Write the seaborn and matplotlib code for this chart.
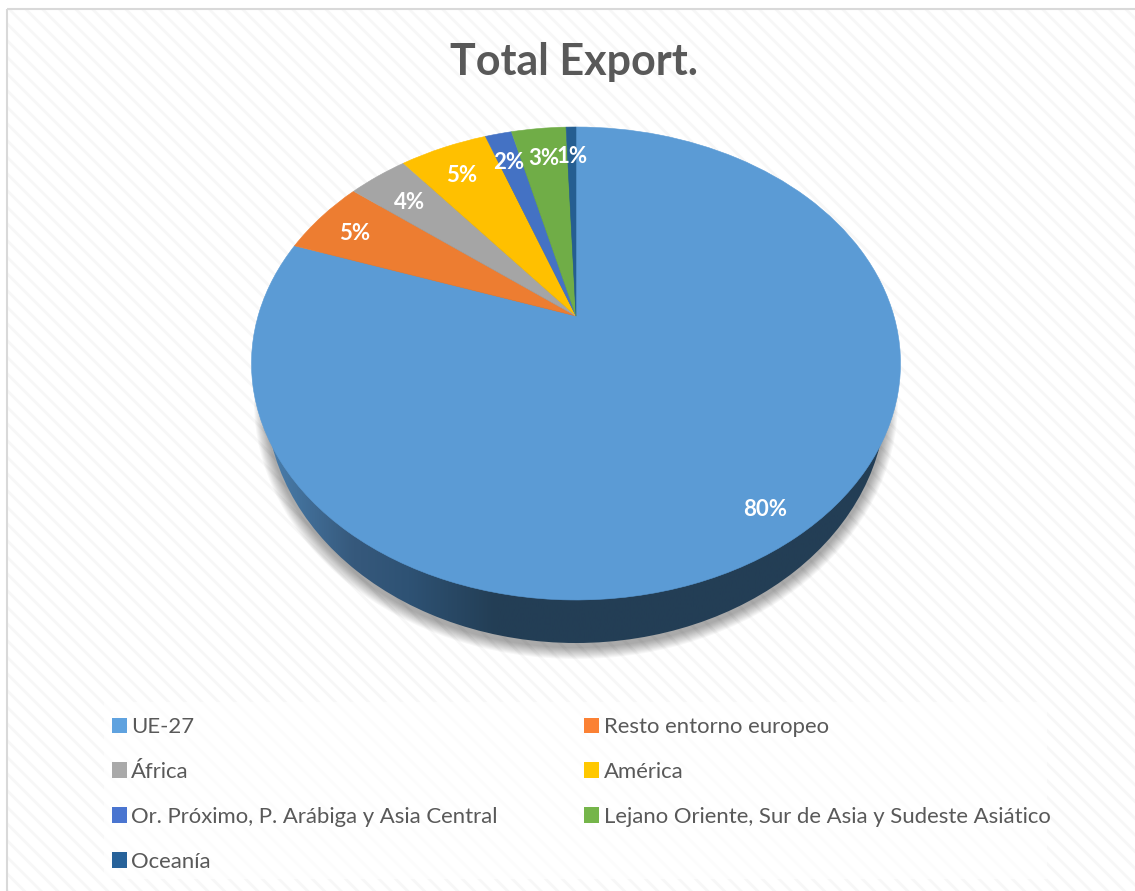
import matplotlib
matplotlib.use("Agg")
import matplotlib.pyplot as plt
import matplotlib.transforms as mtransforms
from matplotlib.colors import LinearSegmentedColormap
from matplotlib.patches import Ellipse, Rectangle
import numpy as np
import seaborn as sb

regions = ["UE-27", "Resto entorno europeo", "África", "América",
           "Or. Próximo, P. Arábiga y Asia Central",
           "Lejano Oriente, Sur de Asia y Sudeste Asiático", "Oceanía"]
shares = [80.35, 5.25, 3.6, 5.3, 1.6, 3.3, 0.6]
slice_colors = ["#5b9bd5", "#ed7d31", "#a5a5a5", "#ffc000", "#4472c4", "#70ad47", "#255e91"]
legend_colors = ["#5fa2df", "#fb8134", "#a9a9a9", "#ffc800", "#4a75d0", "#75b54a", "#27629a"]
side_colors = ["#4a7fae", "#36597c", "#2e5274", "#233e55", "#233e55"]
title_text = "Total Export."

W, H = 1135, 891
TEXT_GREY = "#595959"

sb.set_theme(style="white", font="Lato")
plt.rcParams["hatch.linewidth"] = 2.0


class TiltedPie(mtransforms.Transform):
    # tilts the unit circle of ax.pie into the picture's perspective (pixel coords)
    input_dims = output_dims = 2
    has_inverse = False

    def transform_non_affine(self, xy):
        xy = np.asarray(xy, dtype=float)
        w = 0.2008 * xy[:, 1] + 1
        return np.column_stack([576 + 317.9 * xy[:, 0] / w,
                                (316 - 163.5 * xy[:, 1]) / w])


fig = plt.figure(figsize=(W / 100, H / 100), dpi=100, facecolor="white")
ax = fig.add_axes([0, 0, 1, 1])

# background: white with faint diagonal stripes and a grey border on left/top
ax.add_patch(Rectangle((8, 10), W, H, facecolor="white", edgecolor="#f7f7f7",
                       hatch="\\\\", linewidth=0, zorder=0))
ax.add_patch(Rectangle((7, 9), W, H, facecolor="none", edgecolor="#d9d9d9",
                       linewidth=1.5, zorder=0.5))

# soft shadow under the body
for i in range(12):
    ax.add_patch(Ellipse((576, 401), 2 * (310 + 12 - i), 2 * (246 + 12 - i),
                         facecolor="black", edgecolor="none", alpha=0.03, zorder=1))

# side of the pie with the left-to-right gradient
side_cmap = LinearSegmentedColormap.from_list(
    "side", list(zip([0, 0.14, 0.23, 0.37, 1], side_colors)))
gradient = ax.imshow(np.linspace(0, 1, 256).reshape(1, -1), cmap=side_cmap,
                     extent=(266, 886, 651, 151), aspect="auto", zorder=2)
body = Ellipse((576, 397), 620, 492, facecolor="none", edgecolor="none",
               transform=ax.transData)
ax.add_patch(body)
gradient.set_clip_path(body)

wedges, _, pct_texts = ax.pie(shares, colors=sb.color_palette(slice_colors), startangle=90,
                              counterclock=False, labeldistance=None, autopct="%.0f%%",
                              pctdistance=0.84,
                              wedgeprops={"linewidth": 0.4, "zorder": 3},
                              textprops={"color": "white", "fontweight": "bold", "fontsize": 16})

tilt = TiltedPie() + ax.transData
text_tilt = TiltedPie() + mtransforms.Affine2D().translate(0, 4) + ax.transData
for w in wedges:
    w.set_edgecolor(w.get_facecolor())
    w.set_transform(tilt)
for t in pct_texts:
    t.set_transform(text_tilt)
    t.set_zorder(4)
# a few labels sit a little off the common radius
for t, k in zip(pct_texts, [1.045, 1.025, 0.98, 1, 1, 1, 1]):
    x0, y0 = t.get_position()
    t.set_position((x0 * k, y0 * k))

ax.set_aspect("auto")
ax.set_xlim(0, W)
ax.set_ylim(H, 0)
ax.axis("off")

ax.text(574.5, 75, title_text, ha="center", va="baseline", color=TEXT_GREY,
        fontsize=31, fontweight="bold")

# pale box behind the legend
ax.add_patch(Rectangle((104, 702), 943, 177, facecolor="white", edgecolor="none",
                       alpha=0.75, zorder=1))

# legend fills by column, the picture reads by row
order = [0, 2, 4, 6, 1, 3, 5]
leg = ax.legend([wedges[i] for i in order], [regions[i] for i in order], ncol=2,
                loc="upper left", bbox_to_anchor=(103, 708), bbox_transform=ax.transData,
                fontsize=15.9, labelcolor=TEXT_GREY, frameon=False, borderaxespad=0,
                borderpad=0.4, handlelength=0.68, handleheight=0.68, handletextpad=0.2,
                columnspacing=3.91, labelspacing=1.13)
for handle, i in zip(leg.legend_handles, order):
    handle.set_facecolor(legend_colors[i])
    handle.set_edgecolor("none")

fig.savefig("out.png", dpi=100)
